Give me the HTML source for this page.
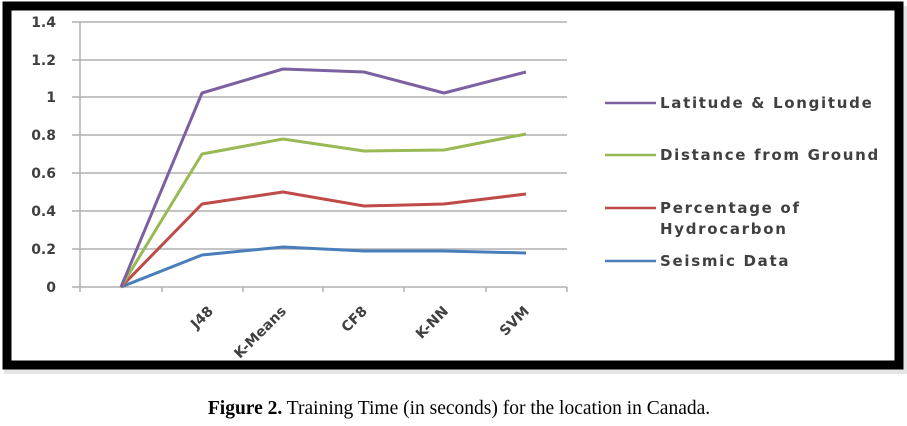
<!DOCTYPE html>
<html><head><style>
body{margin:0;width:907px;height:421px;background:#fff;overflow:hidden}
</style></head><body>
<svg width="907" height="421" xmlns="http://www.w3.org/2000/svg" font-family="DejaVu Sans, sans-serif">
<rect x="4" y="6" width="903" height="368" fill="#ccc" opacity="0.5"/>
<rect x="7" y="6" width="892" height="359" fill="#fff" stroke="#000" stroke-width="9"/>
<g stroke="#b0b0b0" stroke-width="1.5">
<line x1="72" y1="22" x2="567" y2="22"/><line x1="72" y1="60" x2="567" y2="60"/>
<line x1="72" y1="97" x2="567" y2="97"/><line x1="72" y1="135" x2="567" y2="135"/>
<line x1="72" y1="173" x2="567" y2="173"/><line x1="72" y1="211" x2="567" y2="211"/>
<line x1="72" y1="249" x2="567" y2="249"/><line x1="72" y1="287" x2="567" y2="287"/>
<line x1="80" y1="22" x2="80" y2="292"/>
<line x1="162" y1="287" x2="162" y2="292"/><line x1="243" y1="287" x2="243" y2="292"/>
<line x1="323" y1="287" x2="323" y2="292"/><line x1="404" y1="287" x2="404" y2="292"/>
<line x1="486" y1="287" x2="486" y2="292"/><line x1="567" y1="287" x2="567" y2="292"/>
</g>
<g font-size="14" font-weight="bold" fill="#404040" text-anchor="end">
<text x="56" y="27">1.4</text><text x="56" y="65">1.2</text><text x="56" y="102">1</text>
<text x="56" y="140">0.8</text><text x="56" y="178">0.6</text><text x="56" y="216">0.4</text>
<text x="56" y="254">0.2</text><text x="56" y="292">0</text>
</g>
<g fill="none" stroke-width="3" stroke-linejoin="round">
<polyline stroke="#4a7ebb" points="121,287 202,255 283,247 364,251 444,251 526,253"/>
<polyline stroke="#be4b48" points="121,287 202,204 283,192 364,206 444,204 526,194"/>
<polyline stroke="#98b954" points="121,287 202,154 283,139 364,151 444,150 526,134"/>
<polyline stroke="#7d60a0" points="121,287 202,93 283,69 364,72 444,93 526,72"/>
</g>
<g font-size="14" font-weight="bold" fill="#404040" text-anchor="end">
<text transform="translate(214,312) rotate(-45)">J48</text>
<text transform="translate(287,312) rotate(-45)">K-Means</text>
<text transform="translate(368,312) rotate(-45)">CF8</text>
<text transform="translate(449,312) rotate(-45)">K-NN</text>
<text transform="translate(530,312) rotate(-45)">SVM</text>
</g>
<g stroke-width="2.5">
<line x1="605" y1="103" x2="656" y2="103" stroke="#7d60a0"/>
<line x1="605" y1="155" x2="656" y2="155" stroke="#98b954"/>
<line x1="605" y1="208" x2="656" y2="208" stroke="#be4b48"/>
<line x1="605" y1="261" x2="656" y2="261" stroke="#4a7ebb"/>
</g>
<g font-size="15" font-weight="bold" fill="#404040" letter-spacing="1.7">
<text x="660" y="108">Latitude &amp; Longitude</text>
<text x="660" y="160">Distance from Ground</text>
<text x="660" y="213">Percentage of</text>
<text x="660" y="234">Hydrocarbon</text>
<text x="660" y="266">Seismic Data</text>
</g>
<text x="459" y="414" text-anchor="middle" font-family="Liberation Serif, serif" font-size="19.5" fill="#000"><tspan font-weight="bold">Figure 2.</tspan> Training Time (in seconds) for the location in Canada.</text>
</svg>
</body></html>
